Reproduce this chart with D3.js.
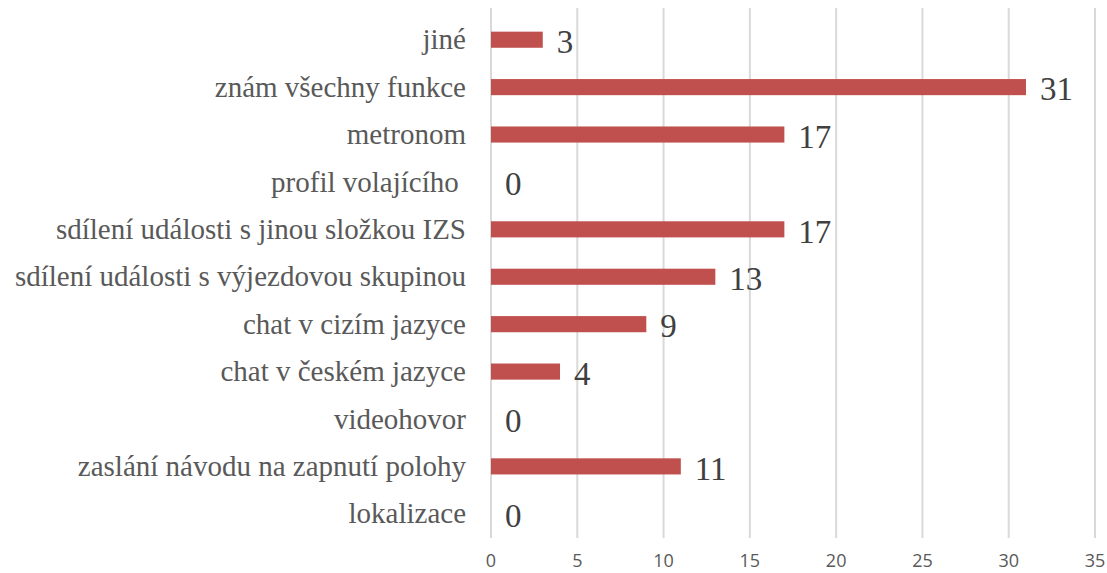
<!DOCTYPE html>
<html>
<head>
<meta charset="utf-8">
<script src="https://cdn.jsdelivr.net/npm/d3@7"></script>
<style>
  body { margin: 0; background: #fff; }
  svg { display: block; }
</style>
</head>
<body>
<div id="chart"></div>
<script>
// data, top to bottom as in the chart
var categories = ["jiné", "znám všechny funkce", "metronom", "profil volajícího ",
  "sdílení události s jinou složkou IZS", "sdílení události s výjezdovou skupinou",
  "chat v cizím jazyce", "chat v českém jazyce", "videohovor",
  "zaslání návodu na zapnutí polohy", "lokalizace"]
var values = [3, 31, 17, 0, 17, 13, 9, 4, 0, 11, 0]
var xTicks = [0, 5, 10, 15, 20, 25, 30, 35]

var width = 1107, height = 573
var margin = { top: 16, left: 491, right: 12, bottom: 35 }

var svg = d3.select("#chart").append("svg")
  .attr("width", width)
  .attr("height", height)

var x = d3.scaleLinear()
  .domain([0, 35])
  .range([margin.left, 1095])

var y = d3.scaleBand()
  .domain(categories)
  .range([margin.top, height - margin.bottom - 0.5])
  .paddingInner(0.66)
  .paddingOuter(0.33)

// gridlines
svg.append("g")
  .selectAll("line")
  .data(xTicks)
  .enter().append("line")
  .attr("x1", function(d) { return x(d) })
  .attr("x2", function(d) { return x(d) })
  .attr("y1", 8)
  .attr("y2", 538)
  .attr("stroke", "#d9d9d9")
  .attr("stroke-width", 2)

// x tick labels
svg.append("g")
  .selectAll("text")
  .data(xTicks)
  .enter().append("text")
  .attr("x", function(d) { return x(d) })
  .attr("y", 567)
  .attr("text-anchor", "middle")
  .attr("font-family", "'Open Sans', 'Liberation Sans', sans-serif")
  .attr("font-size", 18)
  .attr("fill", "#595959")
  .text(function(d) { return d })

// bars
svg.append("g")
  .selectAll("rect")
  .data(values)
  .enter().append("rect")
  .attr("x", x(0))
  .attr("y", function(d, i) { return y(categories[i]) })
  .attr("width", function(d) { return x(d) - x(0) })
  .attr("height", y.bandwidth())
  .attr("fill", "#c0504d")

// category labels
svg.append("g")
  .selectAll("text")
  .data(categories)
  .enter().append("text")
  .attr("x", 466)
  .attr("y", function(d) { return y(d) + y.bandwidth() / 2 })
  .attr("dy", "0.33em")
  .attr("text-anchor", "end")
  .attr("font-family", "'Liberation Serif', 'Times New Roman', serif")
  .attr("font-size", 29)
  .attr("fill", "#595959")
  .style("white-space", "pre")
  .text(function(d) { return d })

// value labels
svg.append("g")
  .selectAll("text")
  .data(values)
  .enter().append("text")
  .attr("x", function(d) { return x(d) + 14 })
  .attr("y", function(d, i) { return y(categories[i]) + y.bandwidth() / 2 })
  .attr("dy", "0.4em")
  .attr("font-family", "'Liberation Serif', 'Times New Roman', serif")
  .attr("font-size", 33)
  .attr("fill", "#404040")
  .text(function(d) { return d })
</script>
</body>
</html>
